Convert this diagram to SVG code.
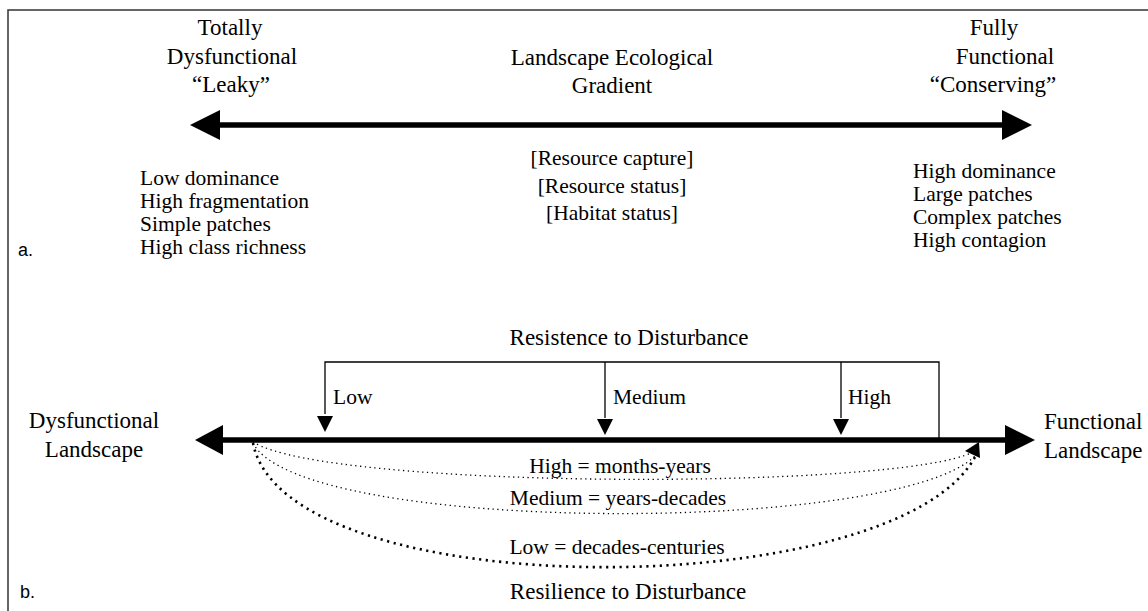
<svg xmlns="http://www.w3.org/2000/svg" width="1148" height="611" viewBox="0 0 1148 611">
<style>
.t{font-family:"Liberation Serif","Times New Roman",serif;font-size:23px;fill:#000}
.s{font-family:"Liberation Serif","Times New Roman",serif;font-size:21.5px;fill:#000}
.c{text-anchor:middle}
.lab{font-family:"Liberation Sans",Arial,sans-serif;font-size:18px;fill:#000}
.thick{stroke:#000;stroke-width:5.5;fill:none}
.thin{stroke:#000;stroke-width:1.3;fill:none}
.dot1{stroke:#000;stroke-width:1.3;fill:none;stroke-dasharray:1.3 3.5}
.dot2{stroke:#000;stroke-width:2.6;fill:none;stroke-dasharray:2.2 4.5}
</style>
<rect width="1148" height="611" fill="#fff"/>
<g id="frame">
<path d="M8,611 V10 H1148" stroke="#333" stroke-width="1.5" fill="none"/>
</g>
<g id="panel-a">
<g id="left-end">
<text class="t c" x="230" y="35">Totally</text>
<text class="t c" x="232" y="64">Dysfunctional</text>
<text class="t c" x="231" y="92">“Leaky”</text>
</g>
<g id="center-title">
<text class="t c" x="612" y="65">Landscape Ecological</text>
<text class="t c" x="612" y="93">Gradient</text>
</g>
<g id="right-end">
<text class="t c" x="994" y="35">Fully</text>
<text class="t c" x="1005" y="64">Functional</text>
<text class="t c" x="993" y="92">“Conserving”</text>
</g>
<g id="left-list">
<text class="s" x="140" y="185">Low dominance</text>
<text class="s" x="140" y="208">High fragmentation</text>
<text class="s" x="140" y="231">Simple patches</text>
<text class="s" x="140" y="254">High class richness</text>
</g>
<g id="center-list">
<text class="s c" x="612" y="165">[Resource capture]</text>
<text class="s c" x="612" y="193">[Resource status]</text>
<text class="s c" x="612" y="220">[Habitat status]</text>
</g>
<g id="right-list">
<text class="s" x="913" y="178">High dominance</text>
<text class="s" x="913" y="201">Large patches</text>
<text class="s" x="913" y="224">Complex patches</text>
<text class="s" x="913" y="247">High contagion</text>
</g>
<text class="lab" x="18" y="256">a.</text>
</g>
<g id="panel-b">
<g id="resistance">
<text class="t c" x="629" y="345">Resistence to Disturbance</text>
<text class="s" x="333" y="404">Low</text>
<text class="s" x="613" y="404">Medium</text>
<text class="s" x="848" y="404">High</text>
</g>
<g id="dys-landscape">
<text class="t c" x="94" y="428">Dysfunctional</text>
<text class="t c" x="94" y="457">Landscape</text>
</g>
<g id="func-landscape">
<text class="t" x="1044" y="429">Functional</text>
<text class="t" x="1044" y="458">Landscape</text>
</g>
<g id="resilience">
<text class="s c" x="620" y="473">High = months-years</text>
<text class="s c" x="618" y="505">Medium = years-decades</text>
<text class="s c" x="617" y="554">Low = decades-centuries</text>
<text class="t c" x="628" y="599">Resilience to Disturbance</text>
</g>
<text class="lab" x="20" y="598">b.</text>
</g>
<g id="connectors">
<line class="thick" x1="215" y1="125" x2="1006" y2="125"/>
<polygon points="190,125 220,110 220,140"/>
<polygon points="1032,125 1002,110 1002,140"/>
<path class="thin" d="M325,414 V362 H939 V440"/>
<polygon points="317,416 333,416 325,432"/>
<line class="thin" x1="605" y1="362" x2="605" y2="418"/>
<polygon points="597,419 613,419 605,435"/>
<line class="thin" x1="841" y1="362" x2="841" y2="418"/>
<polygon points="833,419 849,419 841,435"/>
<line class="thick" x1="218" y1="440" x2="1010" y2="440"/>
<polygon points="195,440 223,425 223,455"/>
<polygon points="1035,440 1005,425 1005,455"/>
<path class="dot1" d="M253,442 C330,490 900,490 973,452"/>
<path class="dot1" d="M253,443 C300,535 900,535 976,455"/>
<path class="dot2" d="M253,443 C285,608 900,605 976,455"/>
<polygon points="965,451 979,442 980,458"/>
</g>
</svg>
